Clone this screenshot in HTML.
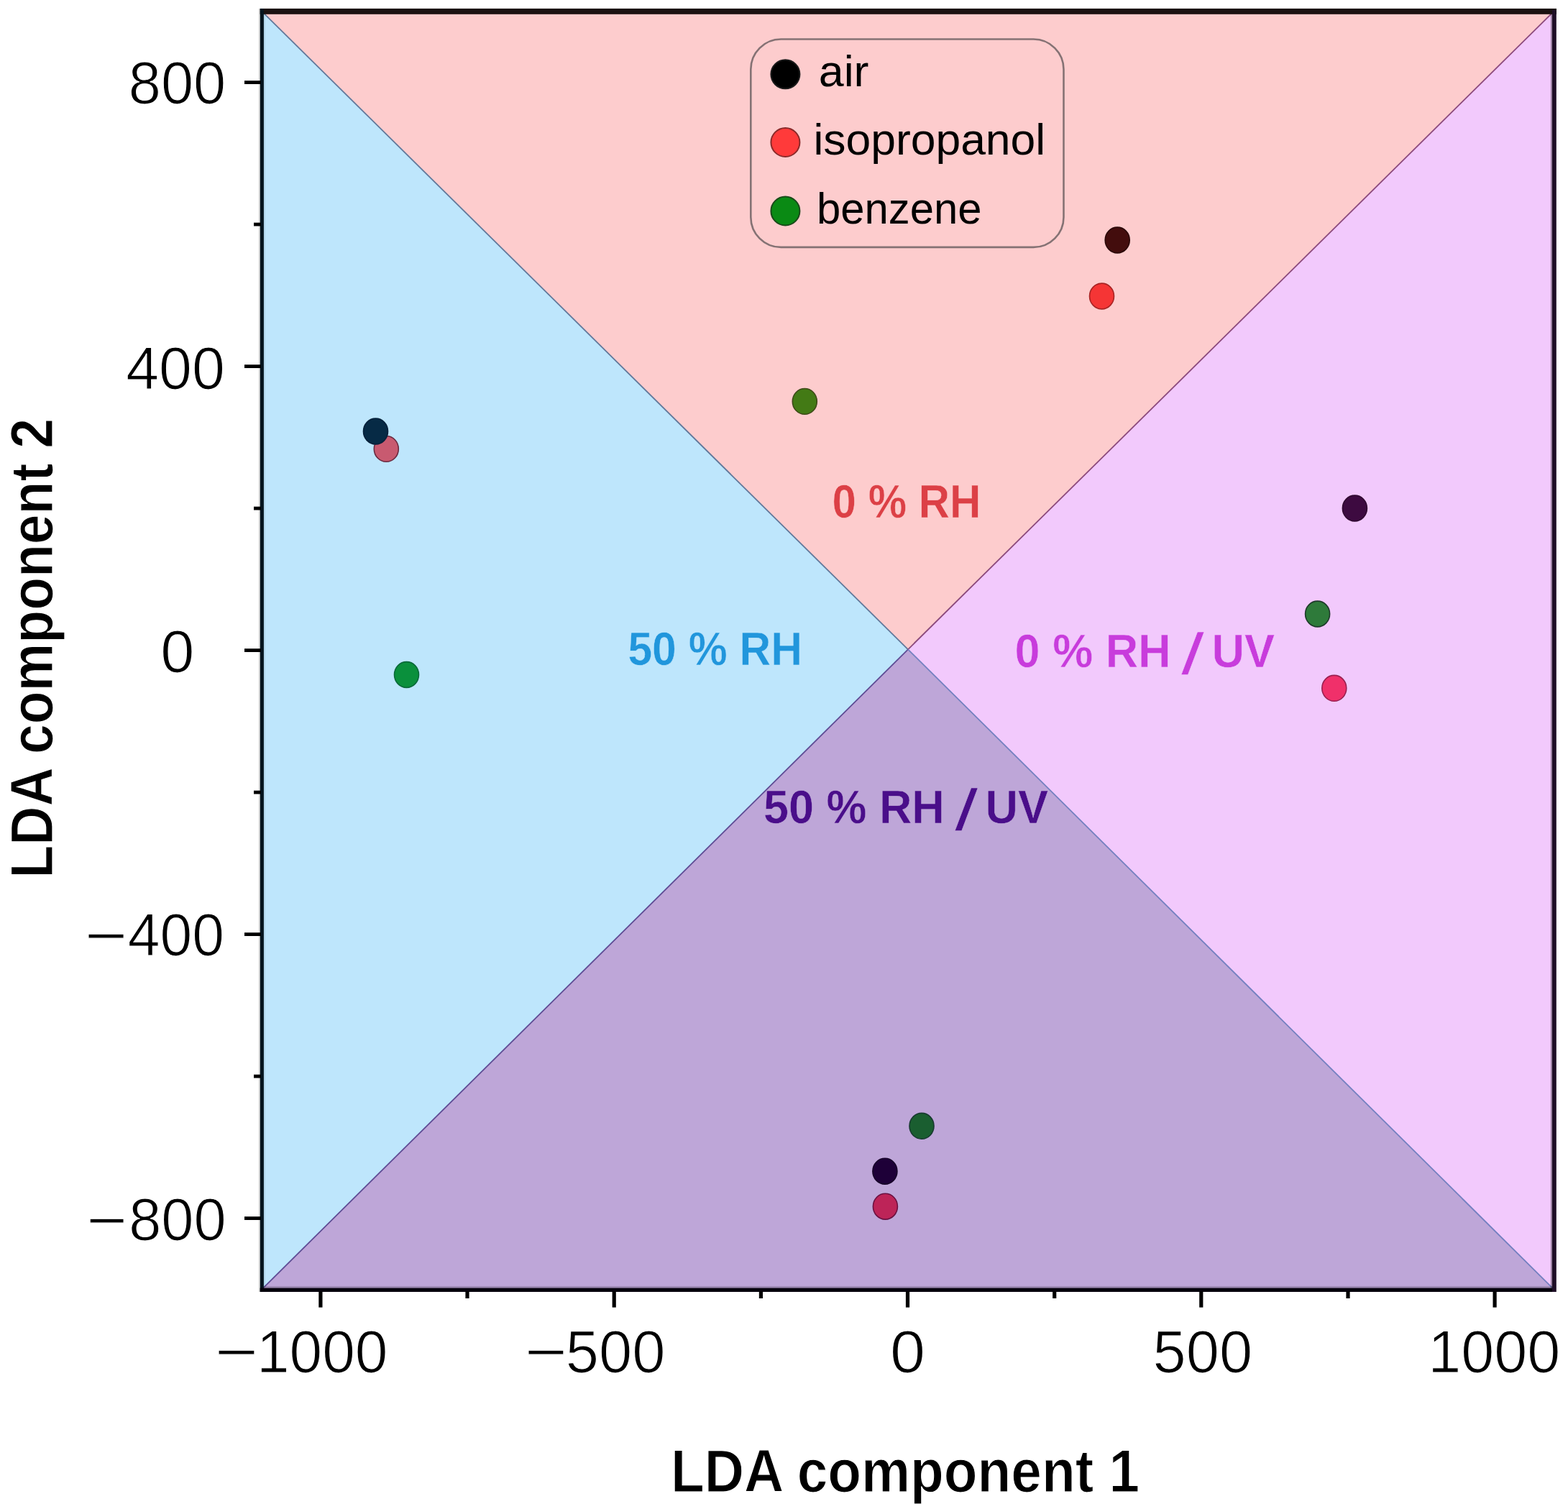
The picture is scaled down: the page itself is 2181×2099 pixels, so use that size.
<!DOCTYPE html>
<html><head><meta charset="utf-8"><title>LDA plot</title>
<style>html,body{margin:0;padding:0;background:#fff;overflow:hidden;} svg{display:block;}</style></head>
<body><svg width="2181" height="2099" viewBox="0 0 2181 2099">
<rect width="2181" height="2099" fill="#fff"/>
<polygon points="364.3,15.9 2161.2,15.9 1263.0,903.3" fill="#fdcccd"/>
<polygon points="364.3,15.9 364.3,1793.4 1263.0,903.3" fill="#bee6fc"/>
<polygon points="2161.2,15.9 2161.2,1793.4 1263.0,903.3" fill="#f2c9fc"/>
<polygon points="364.3,1793.4 2161.2,1793.4 1263.0,903.3" fill="#bea6d8"/>
<line x1="364.3" y1="15.9" x2="1263.0" y2="903.3" stroke="#62789a" stroke-width="1.8"/>
<line x1="2161.2" y1="15.9" x2="1263.0" y2="903.3" stroke="#8c4a7c" stroke-width="1.8"/>
<line x1="364.3" y1="1793.4" x2="1263.0" y2="903.3" stroke="#5e4c94" stroke-width="1.8"/>
<line x1="2161.2" y1="1793.4" x2="1263.0" y2="903.3" stroke="#7480c0" stroke-width="1.8"/>
<text id="r0" x="1157.6" y="720.0" font-family="'Liberation Sans', Arial, sans-serif" font-size="64" font-weight="bold" fill="#dc4046" stroke="#fdcccd" stroke-width="0.5" textLength="206.7" lengthAdjust="spacingAndGlyphs">0 % RH</text>
<text id="r50" x="873.4" y="924.7" font-family="'Liberation Sans', Arial, sans-serif" font-size="64" font-weight="bold" fill="#2196dc" stroke="#bee6fc" stroke-width="0.5" textLength="242.7" lengthAdjust="spacingAndGlyphs">50 % RH</text>
<text id="r0uv" x="1411.6" y="927.6" font-family="'Liberation Sans', Arial, sans-serif" font-size="64" font-weight="bold" fill="#c83cdc" stroke="#f2c9fc" stroke-width="0.5" textLength="361.4" lengthAdjust="spacingAndGlyphs">0 % RH <tspan font-size="80" font-style="italic" dy="9">/</tspan><tspan dy="-9"> UV</tspan></text>
<text id="r50uv" x="1062.0" y="1145.4" font-family="'Liberation Sans', Arial, sans-serif" font-size="64" font-weight="bold" fill="#4a0e8a" stroke="#bea6d8" stroke-width="0.5" textLength="396.0" lengthAdjust="spacingAndGlyphs">50 % RH <tspan font-size="80" font-style="italic" dy="9">/</tspan><tspan dy="-9"> UV</tspan></text>
<ellipse cx="1554.2" cy="334" rx="17.0" ry="17.9" fill="#430d0d" stroke="#2a0808" stroke-width="1.6"/>
<ellipse cx="1532.5" cy="412" rx="17.0" ry="17.9" fill="#f53535" stroke="#a82424" stroke-width="1.6"/>
<ellipse cx="1119.3" cy="558.4" rx="17.0" ry="17.9" fill="#437a15" stroke="#3e4a18" stroke-width="1.6"/>
<ellipse cx="537.3" cy="624.4" rx="17.0" ry="17.9" fill="#c85a70" stroke="#6a2a40" stroke-width="1.6"/>
<ellipse cx="522.5" cy="600" rx="17.0" ry="17.9" fill="#062a45" stroke="#04203a" stroke-width="1.6"/>
<ellipse cx="565.5" cy="938.5" rx="17.0" ry="17.9" fill="#0a903c" stroke="#0a6a3a" stroke-width="1.6"/>
<ellipse cx="1884.4" cy="707" rx="17.0" ry="17.9" fill="#3d0a40" stroke="#300830" stroke-width="1.6"/>
<ellipse cx="1832.6" cy="854" rx="17.0" ry="17.9" fill="#2e7a3a" stroke="#1e3a2a" stroke-width="1.6"/>
<ellipse cx="1855.8" cy="957.3" rx="17.0" ry="17.9" fill="#f0306a" stroke="#9a2050" stroke-width="1.6"/>
<ellipse cx="1282" cy="1566.3" rx="17.0" ry="17.9" fill="#1a5e30" stroke="#183a30" stroke-width="1.6"/>
<ellipse cx="1230.9" cy="1629.2" rx="17.0" ry="17.9" fill="#1e0038" stroke="#160028" stroke-width="1.6"/>
<ellipse cx="1231.4" cy="1678.2" rx="17.0" ry="17.9" fill="#bd2458" stroke="#6a1040" stroke-width="1.6"/>
<rect x="1044.3" y="54.5" width="435.2" height="289.4" rx="42" ry="42" fill="none" stroke="#857274" stroke-width="2.6"/>
<circle cx="1092.4" cy="103.3" r="20" fill="#000000" stroke="#1a1a1a" stroke-width="2"/>
<circle cx="1092.4" cy="198" r="20" fill="#ff3a3a" stroke="#8a2a2a" stroke-width="2"/>
<circle cx="1092.4" cy="293.5" r="20" fill="#0a8a14" stroke="#1a4a1a" stroke-width="2"/>
<text id="lair" x="1138.8" y="119.6" font-family="'Liberation Sans', Arial, sans-serif" font-size="62" fill="#000" textLength="69.7" lengthAdjust="spacingAndGlyphs">air</text>
<text id="liso" x="1131.4" y="215.1" font-family="'Liberation Sans', Arial, sans-serif" font-size="62" fill="#000" textLength="322.8" lengthAdjust="spacingAndGlyphs">isopropanol</text>
<text id="lben" x="1136.0" y="310.6" font-family="'Liberation Sans', Arial, sans-serif" font-size="62" fill="#000" textLength="229.6" lengthAdjust="spacingAndGlyphs">benzene</text>
<rect x="361.7" y="12" width="1803.3" height="7.8" fill="#1a1010"/>
<rect x="361.7" y="12" width="5.2" height="1785" fill="#04141e"/>
<rect x="361.7" y="1791.6" width="1798.3" height="5.4" fill="#06020c"/>
<rect x="2159" y="14" width="5.8" height="1783" fill="#1e0e26"/>
<rect x="366.9" y="1789.3" width="1792" height="2.3" fill="#000" fill-opacity="0.2"/>
<rect x="2156.9" y="19.8" width="2.1" height="1771.8" fill="#000" fill-opacity="0.35"/>
<rect x="359.6" y="12" width="2.1" height="1785" fill="#000" fill-opacity="0.12"/>
<rect x="366.9" y="19.8" width="2" height="1769.5" fill="#000" fill-opacity="0.07"/>
<rect x="361.7" y="10.3" width="1803" height="1.7" fill="#000" fill-opacity="0.08"/>
<rect x="340" y="112.2" width="23" height="4.8" fill="#000"/>
<rect x="340" y="507.2" width="23" height="4.8" fill="#000"/>
<rect x="340" y="902.2" width="23" height="4.8" fill="#000"/>
<rect x="340" y="1297.2" width="23" height="4.8" fill="#000"/>
<rect x="340" y="1692.2" width="23" height="4.8" fill="#000"/>
<rect x="353" y="309.7" width="10" height="4.8" fill="#000"/>
<rect x="353" y="704.7" width="10" height="4.8" fill="#000"/>
<rect x="353" y="1099.7" width="10" height="4.8" fill="#000"/>
<rect x="353" y="1494.7" width="10" height="4.8" fill="#000"/>
<rect x="443.3" y="1796" width="5.2" height="22.6" fill="#000"/>
<rect x="851.6" y="1796" width="5.2" height="22.6" fill="#000"/>
<rect x="1259.9" y="1796" width="5.2" height="22.6" fill="#000"/>
<rect x="1668.2" y="1796" width="5.2" height="22.6" fill="#000"/>
<rect x="2076.5" y="1796" width="5.2" height="22.6" fill="#000"/>
<rect x="647.4" y="1796" width="5.2" height="10" fill="#000"/>
<rect x="1055.8" y="1796" width="5.2" height="10" fill="#000"/>
<rect x="1464.1" y="1796" width="5.2" height="10" fill="#000"/>
<rect x="1872.4" y="1796" width="5.2" height="10" fill="#000"/>
<text id="y800" x="178.8" y="143.9" font-family="'Liberation Sans', Arial, sans-serif" font-size="83" fill="#000" stroke="#fff" stroke-width="1.2" textLength="135.4" lengthAdjust="spacingAndGlyphs">800</text>
<text id="y400" x="175.2" y="540.8" font-family="'Liberation Sans', Arial, sans-serif" font-size="83" fill="#000" stroke="#fff" stroke-width="1.2" textLength="137.6" lengthAdjust="spacingAndGlyphs">400</text>
<text id="y0" x="223.2" y="935.3" font-family="'Liberation Sans', Arial, sans-serif" font-size="83" fill="#000" stroke="#fff" stroke-width="1.2" textLength="47.1" lengthAdjust="spacingAndGlyphs">0</text>
<text id="ym400" font-family="'Liberation Sans', Arial, sans-serif" font-size="83" fill="#000" stroke="#fff" stroke-width="1.2"><tspan x="117.7" y="1330.0" textLength="59.6" lengthAdjust="spacingAndGlyphs">−</tspan><tspan x="177.8" y="1328.8" textLength="134.1" lengthAdjust="spacingAndGlyphs">400</tspan></text>
<text id="ym800" font-family="'Liberation Sans', Arial, sans-serif" font-size="83" fill="#000" stroke="#fff" stroke-width="1.2"><tspan x="120.3" y="1725.7" textLength="56.8" lengthAdjust="spacingAndGlyphs">−</tspan><tspan x="179.2" y="1724.5" textLength="135.4" lengthAdjust="spacingAndGlyphs">800</tspan></text>
<text id="xm1000" font-family="'Liberation Sans', Arial, sans-serif" font-size="83" fill="#000" stroke="#fff" stroke-width="1.2"><tspan x="298.7" y="1909.3" textLength="60.4" lengthAdjust="spacingAndGlyphs">−</tspan><tspan x="357.0" y="1909.1" textLength="182.5" lengthAdjust="spacingAndGlyphs">1000</tspan></text>
<text id="xm500" font-family="'Liberation Sans', Arial, sans-serif" font-size="83" fill="#000" stroke="#fff" stroke-width="1.2"><tspan x="729.8" y="1909.3" textLength="59.3" lengthAdjust="spacingAndGlyphs">−</tspan><tspan x="786.8" y="1909.1" textLength="138.6" lengthAdjust="spacingAndGlyphs">500</tspan></text>
<text id="x0" x="1238.0" y="1909.1" font-family="'Liberation Sans', Arial, sans-serif" font-size="83" fill="#000" stroke="#fff" stroke-width="1.2" textLength="49.0" lengthAdjust="spacingAndGlyphs">0</text>
<text id="x500" x="1603.6" y="1909.1" font-family="'Liberation Sans', Arial, sans-serif" font-size="83" fill="#000" stroke="#fff" stroke-width="1.2" textLength="138.5" lengthAdjust="spacingAndGlyphs">500</text>
<text id="x1000" x="1986.2" y="1909.1" font-family="'Liberation Sans', Arial, sans-serif" font-size="83" fill="#000" stroke="#fff" stroke-width="1.2" textLength="184.1" lengthAdjust="spacingAndGlyphs">1000</text>
<text id="tx" x="933.0" y="2075.2" font-family="'Liberation Sans', Arial, sans-serif" font-size="84" font-weight="bold" fill="#000" stroke="#fff" stroke-width="1.2" textLength="652.0" lengthAdjust="spacingAndGlyphs">LDA component 1</text>
<text id="ty" transform="translate(72.8,1221.5) rotate(-90)" x="0" y="0" font-family="'Liberation Sans', Arial, sans-serif" font-size="83" font-weight="bold" fill="#000" stroke="#fff" stroke-width="1.2" textLength="639.6" lengthAdjust="spacingAndGlyphs">LDA component 2</text>
</svg></body></html>
